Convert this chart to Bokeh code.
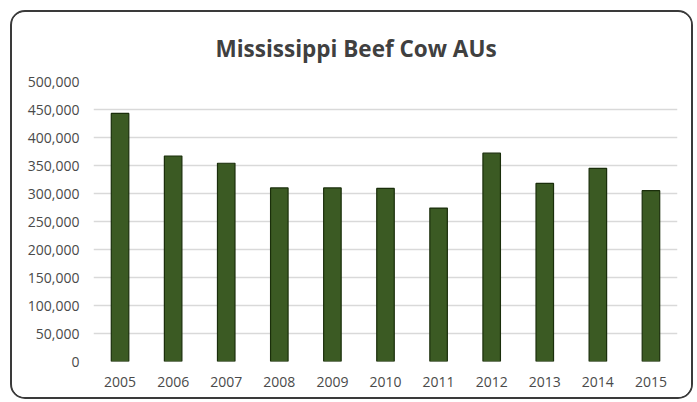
from bokeh.plotting import figure
from bokeh.models import FixedTicker, NumeralTickFormatter
from bokeh.embed import file_html
from bokeh.resources import INLINE

# Beef cow animal units in Mississippi, by year
years = ["2005", "2006", "2007", "2008", "2009", "2010",
         "2011", "2012", "2013", "2014", "2015"]
cow_aus = [443000, 367000, 354000, 310000, 310000, 309000,
           274000, 372000, 318000, 345000, 305000]
y_ticks = list(range(0, 500001, 50000))

FONT = "Open Sans"

p = figure(
    x_range=years,
    y_range=(0, 500000),
    width=683,
    height=389,
    output_backend="svg",
    toolbar_location=None,
    min_border_left=81,
    min_border_right=18,
    min_border_top=69,
    min_border_bottom=40,
    background_fill_color="white",
    border_fill_color="white",
    outline_line_color=None,
    title="Mississippi Beef Cow AUs",
)

# rounded chart-area frame
p.styles = {
    "border": "2px solid #3a3a3a",
    "border-radius": "15px",
    "overflow": "hidden",
    "margin-left": "10px",
    "margin-top": "10px",
}

p.vbar(x=years, top=cow_aus, width=0.33,
       fill_color="#3b5a23", line_color="#1a2e0b", line_width=1.2)

p.title.text_font = FONT
p.title.text_font_size = "22.5px"
p.title.text_font_style = "bold"
p.title.text_color = "#404040"
p.title.align = "left"
p.title.offset = 122
p.title.standoff = 36

p.xgrid.grid_line_color = None
p.ygrid.grid_line_color = "#d9d9d9"
p.ygrid.grid_line_width = 1.3

p.yaxis.ticker = FixedTicker(ticks=y_ticks)
p.yaxis.formatter = NumeralTickFormatter(format="0,0")

for ax in (p.xaxis[0], p.yaxis[0]):
    ax.axis_line_color = None
    ax.major_tick_line_color = None
    ax.minor_tick_line_color = None
    ax.major_tick_out = 0
    ax.major_tick_in = 0
    ax.major_label_text_font = FONT
    ax.major_label_text_font_size = "14px"
    ax.major_label_text_color = "#4a4a4a"

p.yaxis.major_label_standoff = 14
p.xaxis.major_label_standoff = 15

open("out.html", "w").write(file_html(p, INLINE))
